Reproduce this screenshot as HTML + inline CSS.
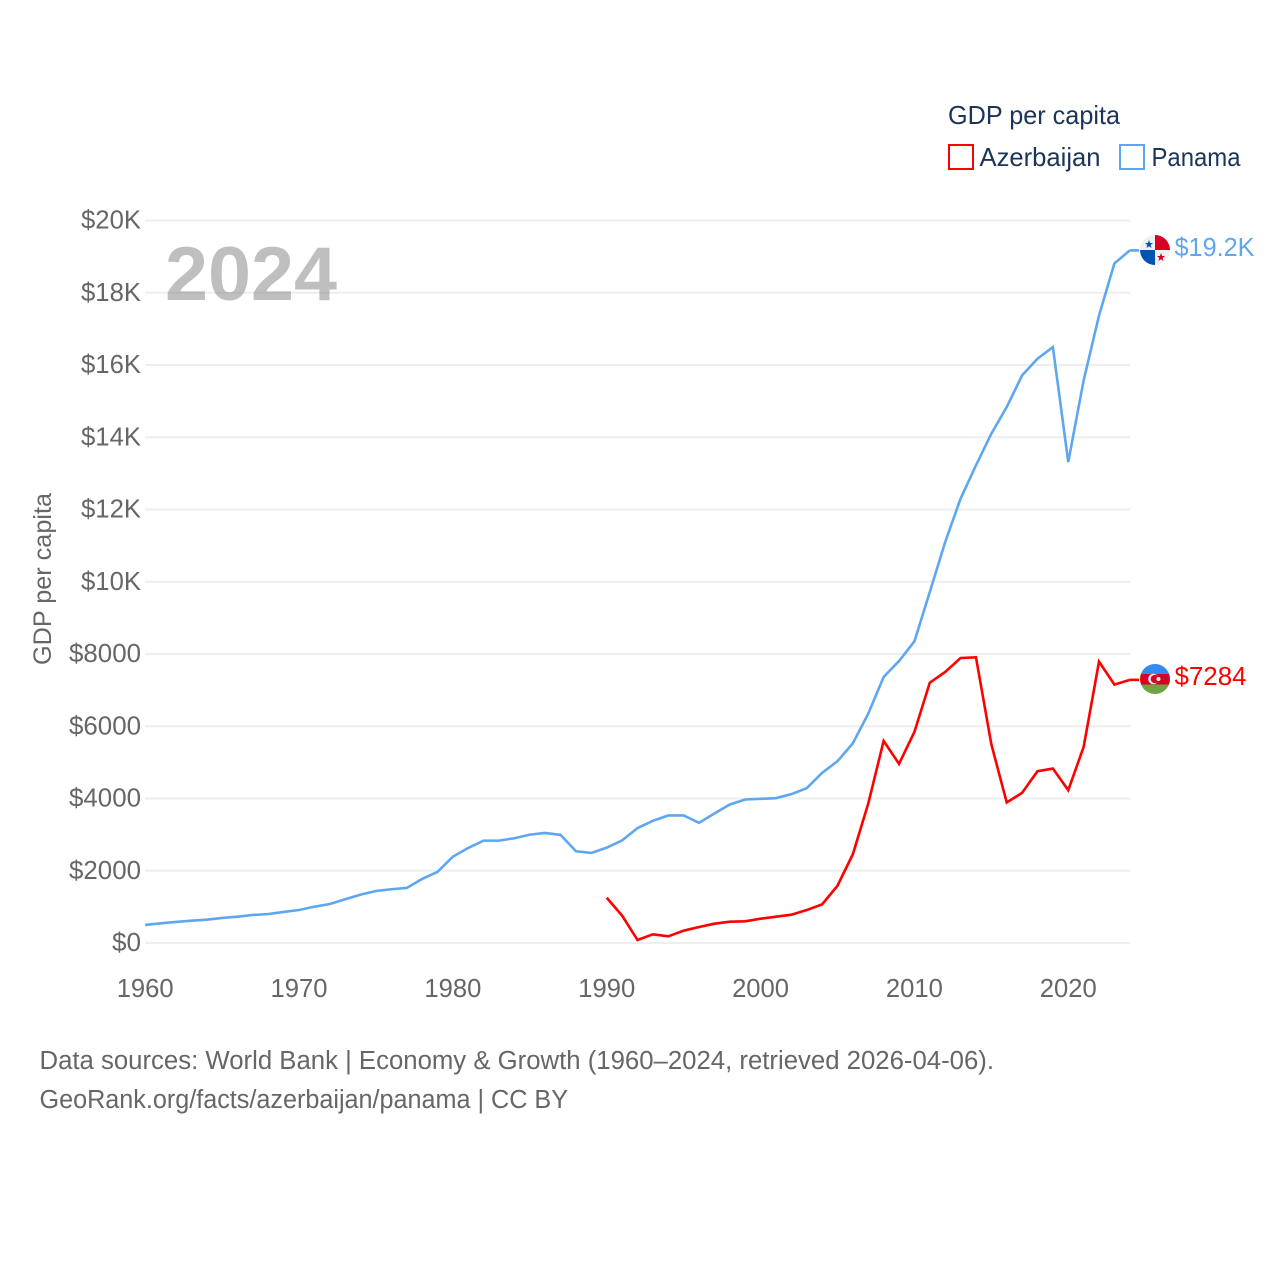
<!DOCTYPE html>
<html lang="en">
<head>
<meta charset="utf-8">
<title>GDP per capita: Azerbaijan and Panama</title>
<style>
html,body{margin:0;padding:0;background:#fff;width:1280px;height:1280px;overflow:hidden}
svg{display:block}
text{font-family:"Liberation Sans",sans-serif}
</style>
</head>
<body>
<svg id="chart" width="1280" height="1280" viewBox="0 0 1280 1280" xmlns="http://www.w3.org/2000/svg">
<defs>
<clipPath id="flag-clip-pa"><circle cx="1155" cy="250" r="15"/></clipPath>
<clipPath id="flag-clip-az"><circle cx="1155" cy="679" r="15"/></clipPath>
</defs>
<rect x="0" y="0" width="1280" height="1280" fill="#fff"/>
<g id="grid"></g>
<g id="yticks"></g>
<g id="xticks"></g>
<text x="165" y="300" font-size="76" font-weight="700" fill="#808080" fill-opacity="0.5" textLength="172" lengthAdjust="spacingAndGlyphs">2024</text>
<text transform="translate(51,665) rotate(-90)" font-size="25" fill="#666" textLength="172" lengthAdjust="spacingAndGlyphs">GDP per capita</text>
<g id="series"></g>
<g clip-path="url(#flag-clip-pa)">
<rect x="1140" y="235" width="30" height="30" fill="#f0f0f0"/>
<rect x="1155" y="235" width="15" height="15" fill="#d80027"/>
<rect x="1140" y="250" width="15" height="15" fill="#0052b4"/>
<polygon points="1149,240 1150.1,243 1153,243 1150.7,245 1151.5,248 1149,246.2 1146.5,248 1147.3,245 1145,243 1147.9,243" fill="#0052b4"/>
<polygon points="1161,253 1162.1,256 1165,256 1162.7,258 1163.5,261 1161,259.2 1158.5,261 1159.3,258 1157,256 1159.9,256" fill="#d80027"/>
</g>
<g clip-path="url(#flag-clip-az)">
<rect x="1140" y="664" width="30" height="10" fill="#338af3"/>
<rect x="1140" y="674" width="30" height="10.5" fill="#d80027"/>
<rect x="1140" y="684.5" width="30" height="10" fill="#6da544"/>
<circle cx="1153.5" cy="679" r="5.3" fill="#f0f0f0"/>
<circle cx="1155" cy="679" r="4.3" fill="#d80027"/>
<circle cx="1158.5" cy="679" r="2" fill="#f0f0f0"/>
</g>
<text x="1174.5" y="256" font-size="26" fill="#5ea7ef" textLength="80" lengthAdjust="spacingAndGlyphs">$19.2K</text>
<text x="1174.5" y="685" font-size="26" fill="#ff0000" textLength="72" lengthAdjust="spacingAndGlyphs">$7284</text>
<g>
<text x="948" y="124" font-size="26" fill="#1a3557" textLength="172" lengthAdjust="spacingAndGlyphs">GDP per capita</text>
<g>
<rect x="949" y="145" width="24" height="24" fill="#fff" stroke="#ff0000" stroke-width="2"/>
<text x="979.5" y="166" font-size="26" fill="#1a3557" textLength="121" lengthAdjust="spacingAndGlyphs">Azerbaijan</text>
</g>
<g>
<rect x="1120" y="145" width="24" height="24" fill="#fff" stroke="#5ea7ef" stroke-width="2"/>
<text x="1151.5" y="166" font-size="26" fill="#1a3557" textLength="89" lengthAdjust="spacingAndGlyphs">Panama</text>
</g>
</g>
<text x="39.5" y="1069" font-size="25.5" fill="#666" textLength="954.5" lengthAdjust="spacingAndGlyphs">Data sources: World Bank | Economy &amp; Growth (1960–2024, retrieved 2026-04-06).</text>
<text x="39.5" y="1108" font-size="25.5" fill="#666" textLength="528.5" lengthAdjust="spacingAndGlyphs">GeoRank.org/facts/azerbaijan/panama | CC BY</text>
</svg>
<script>
const years = [1960,1961,1962,1963,1964,1965,1966,1967,1968,1969,1970,1971,1972,1973,1974,1975,1976,1977,1978,1979,1980,1981,1982,1983,1984,1985,1986,1987,1988,1989,1990,1991,1992,1993,1994,1995,1996,1997,1998,1999,2000,2001,2002,2003,2004,2005,2006,2007,2008,2009,2010,2011,2012,2013,2014,2015,2016,2017,2018,2019,2020,2021,2022,2023,2024];
const panamaValues = [499,546,582,618,645,693,729,776,803,859,914,1006,1080,1211,1338,1440,1488,1524,1773,1967,2391,2632,2834,2834,2900,3000,3047,2992,2540,2493,2640,2839,3180,3382,3530,3530,3327,3585,3834,3972,3991,4009,4120,4286,4710,5032,5530,6350,7364,7806,8350,9716,11100,12300,13221,14098,14836,15712,16173,16496,13313,15574,17373,18812,19172];
const azerbaijanValues = [null,null,null,null,null,null,null,null,null,null,null,null,null,null,null,null,null,null,null,null,null,null,null,null,null,null,null,null,null,null,1253,756,83,240,184,341,442,535,590,600,673,728,783,912,1069,1585,2461,3862,5594,4959,5843,7207,7502,7889,7908,5502,3889,4157,4756,4829,4230,5429,7788,7152,7284];
const yTickValues = [0,2000,4000,6000,8000,10000,12000,14000,16000,18000,20000];
const yTickLabels = ["$0","$2000","$4000","$6000","$8000","$10K","$12K","$14K","$16K","$18K","$20K"];
const xTickValues = [1960,1970,1980,1990,2000,2010,2020];

const NS = "http://www.w3.org/2000/svg";
function xScale(year){ return 145.2 + (year - 1960) * (1129.8 - 145.2) / 64; }
function yScale(value){ return 943 - value * 722.5 / 20000; }

const grid = document.getElementById("grid");
const yticks = document.getElementById("yticks");
const xticks = document.getElementById("xticks");
const series = document.getElementById("series");

yTickValues.forEach(function(v, i){
  const line = document.createElementNS(NS, "line");
  line.setAttribute("x1", 145);
  line.setAttribute("x2", 1130);
  line.setAttribute("y1", yScale(v));
  line.setAttribute("y2", yScale(v));
  line.setAttribute("stroke", "#eeeeee");
  line.setAttribute("stroke-width", 2);
  
  
  grid.appendChild(line);

  const t = document.createElementNS(NS, "text");
  t.textContent = yTickLabels[i];
  t.setAttribute("x", 141);
  t.setAttribute("y", yScale(v) + 8);
  t.setAttribute("text-anchor", "end");
  t.setAttribute("font-size", 26);
  t.setAttribute("fill", "#666");
  
  
  yticks.appendChild(t);
  const label = yTickLabels[i];
  const w = label.endsWith("K") ? 60 : (label.length === 2 ? 29 : 72);
  t.setAttribute("textLength", w);
  t.setAttribute("lengthAdjust", "spacingAndGlyphs");
});

xTickValues.forEach(function(year){
  const t = document.createElementNS(NS, "text");
  t.textContent = String(year);
  t.setAttribute("x", xScale(year));
  t.setAttribute("y", 997);
  t.setAttribute("text-anchor", "middle");
  t.setAttribute("font-size", 26);
  t.setAttribute("fill", "#666");
  t.setAttribute("textLength", 57);
  t.setAttribute("lengthAdjust", "spacingAndGlyphs");
  
  
  xticks.appendChild(t);
});

function linePath(values){
  let d = "";
  let pen = false;
  values.forEach(function(v, i){
    if (v === null) { pen = false; return; }
    d += (pen ? "L" : "M") + xScale(years[i]).toFixed(2) + " " + yScale(v).toFixed(2);
    pen = true;
  });
  return d;
}

const lineAz = document.createElementNS(NS, "path");
lineAz.setAttribute("d", linePath(azerbaijanValues));
lineAz.setAttribute("fill", "none");
lineAz.setAttribute("stroke", "#ff0000");
lineAz.setAttribute("stroke-width", 2.6);


series.appendChild(lineAz);

const linePa = document.createElementNS(NS, "path");
linePa.setAttribute("d", linePath(panamaValues));
linePa.setAttribute("fill", "none");
linePa.setAttribute("stroke", "#5ea7ef");
linePa.setAttribute("stroke-width", 2.6);


series.appendChild(linePa);

const lastIndex = years.length - 1;

const leaderAz = document.createElementNS(NS, "line");
leaderAz.setAttribute("x1", xScale(years[lastIndex]));
leaderAz.setAttribute("x2", 1139);
leaderAz.setAttribute("y1", yScale(azerbaijanValues[lastIndex]));
leaderAz.setAttribute("y2", yScale(azerbaijanValues[lastIndex]));
leaderAz.setAttribute("stroke", "#ff0000");
leaderAz.setAttribute("stroke-width", 2.6);


series.appendChild(leaderAz);

const leaderPa = document.createElementNS(NS, "line");
leaderPa.setAttribute("x1", xScale(years[lastIndex]));
leaderPa.setAttribute("x2", 1139);
leaderPa.setAttribute("y1", yScale(panamaValues[lastIndex]));
leaderPa.setAttribute("y2", yScale(panamaValues[lastIndex]));
leaderPa.setAttribute("stroke", "#5ea7ef");
leaderPa.setAttribute("stroke-width", 2.6);


series.appendChild(leaderPa);
</script>
</body>
</html>
